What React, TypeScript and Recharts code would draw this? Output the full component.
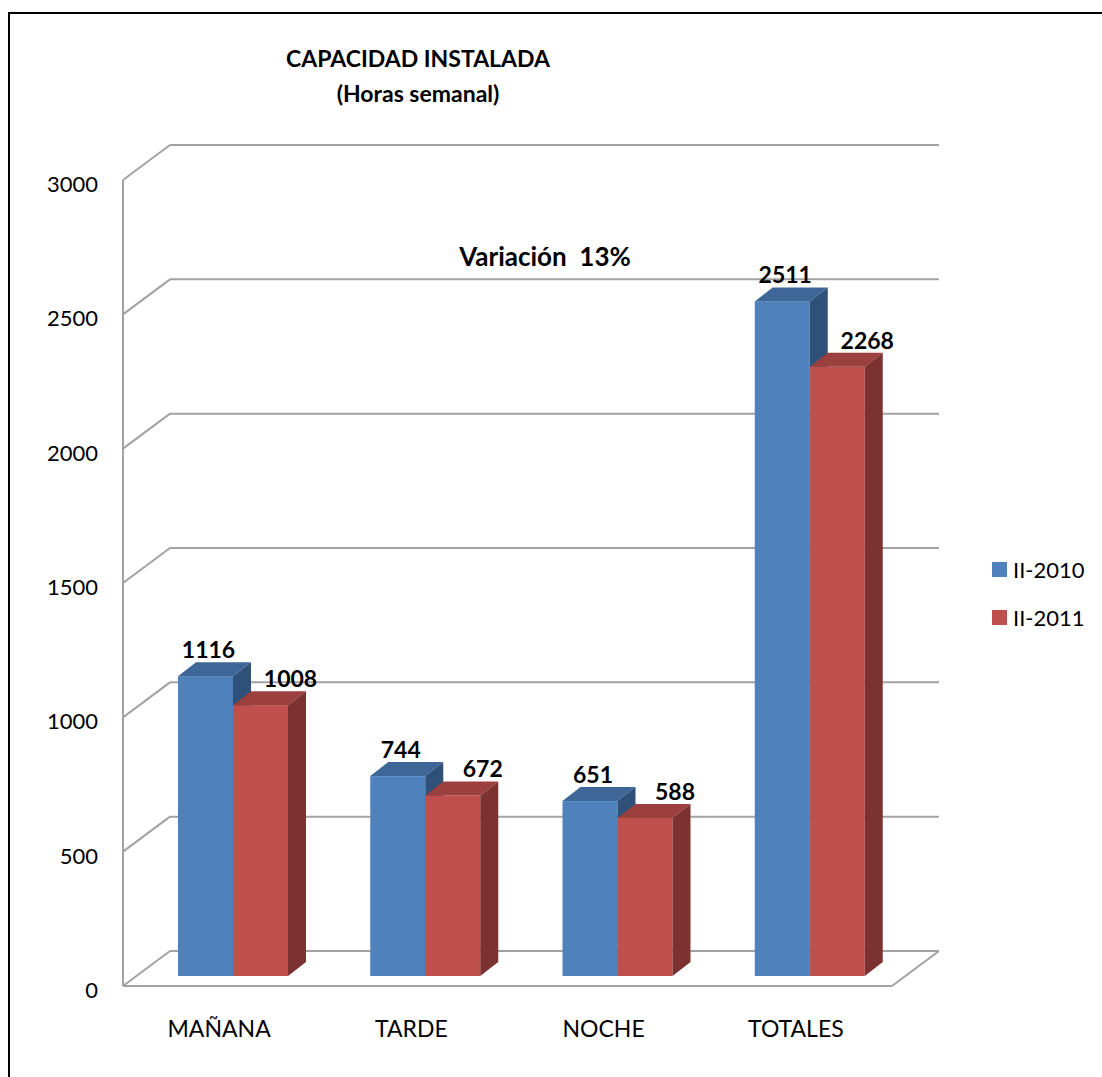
import React from "react";
import {
  BarChart,
  Bar,
  XAxis,
  YAxis,
  CartesianGrid,
  ReferenceArea,
  LabelList,
} from "recharts";

const categories = ["MAÑANA", "TARDE", "NOCHE", "TOTALES"];
const serie2010 = [1116, 744, 651, 2511];
const serie2011 = [1008, 672, 588, 2268];
const seriesNames = ["II-2010", "II-2011"];
const yTicks = [0, 500, 1000, 1500, 2000, 2500, 3000];

const data = categories.map((cat, i) => ({
  cat,
  a: serie2010[i],
  b: serie2011[i],
}));

const FONT = "Lato, 'Open Sans', sans-serif";
const GRID = "#A2A2A2";
// depth of the 3D box relative to the plane the bars stand in
const FRONT = { dx: -14, dy: 10 };
const BACK = { dx: 33, dy: -25 };
const DEPTH = { dx: 18, dy: -14 };

const colors = [
  { front: "#4F81BD", top: "#3E6696", side: "#2F5079" },
  { front: "#C0504D", top: "#9B403E", side: "#7C3231" },
];

function Bar3D(props: any) {
  const { x, y, width: w, height: h, front, top, side } = props;
  if (h == null || isNaN(h)) return null;
  const { dx, dy } = DEPTH;
  return (
    <g>
      <rect x={x} y={y} width={w} height={h} fill={front} />
      <polygon
        points={`${x},${y} ${x + dx},${y + dy} ${x + w + dx},${y + dy} ${x + w},${y}`}
        fill={top}
      />
      <polygon
        points={`${x + w},${y} ${x + w + dx},${y + dy} ${x + w + dx},${y + h + dy} ${x + w},${y + h}`}
        fill={side}
      />
    </g>
  );
}

const valueLabel = (shift: number) => (props: any) => {
  const vb = props.viewBox || {};
  const x = props.x ?? vb.x;
  const y = props.y ?? vb.y;
  const w = props.width ?? vb.width;
  return (
    <text
      x={x + w / 2 + shift}
      y={y - 18}
      textAnchor="middle"
      fontFamily={FONT}
      fontWeight="bold"
      fontSize={23}
      fill="#000"
    >
      {props.value}
    </text>
  );
};

function gridLine(props: any) {
  const { x1, x2, y1, index } = props;
  return (
    <g key={`g-${index}-${y1}`}>
      <line
        x1={x1 + BACK.dx}
        y1={y1 + BACK.dy}
        x2={x2 + BACK.dx}
        y2={y1 + BACK.dy}
        stroke={GRID}
        strokeWidth={2}
      />
      <line
        x1={x1 + FRONT.dx}
        y1={y1 + FRONT.dy}
        x2={x1 + BACK.dx}
        y2={y1 + BACK.dy}
        stroke={GRID}
        strokeWidth={2}
      />
    </g>
  );
}

function boxFrame(props: any) {
  const { x, y, width, height } = props;
  const fx = x + FRONT.dx;
  const bottom = y + height + FRONT.dy;
  return (
    <g fill="none" stroke={GRID} strokeWidth={2}>
      <line x1={fx} y1={y + FRONT.dy} x2={fx} y2={bottom} />
      <line x1={fx} y1={bottom} x2={x + width + FRONT.dx} y2={bottom} />
      <line
        x1={x + width + FRONT.dx}
        y1={bottom}
        x2={x + width + BACK.dx}
        y2={y + height + BACK.dy}
      />
    </g>
  );
}

function YTick(props: any) {
  const { y, payload } = props;
  return (
    <text
      x={98}
      y={y + 22}
      textAnchor="end"
      fontFamily={FONT}
      fontSize={22}
      fill="#000"
    >
      {payload.value}
    </text>
  );
}

function XTick(props: any) {
  const { x, y, payload } = props;
  return (
    <text
      x={x + FRONT.dx}
      y={y + 53}
      textAnchor="middle"
      fontFamily={FONT}
      fontSize={23}
      fill="#000"
    >
      {payload.value}
    </text>
  );
}

export default function App() {
  return (
    <div
      style={{
        position: "absolute",
        left: 0,
        top: 0,
        width: 1102,
        height: 1077,
        background: "#fff",
        overflow: "hidden",
        fontFamily: FONT,
      }}
    >
      <div
        style={{
          position: "absolute",
          left: 8,
          top: 12,
          width: 1094,
          height: 1065,
          borderLeft: "2px solid #000",
          borderTop: "2px solid #000",
          boxSizing: "border-box",
        }}
      />
      <BarChart
        width={1102}
        height={1077}
        data={data}
        margin={{ top: 170, right: 196, bottom: 71, left: 77 }}
        barGap={0}
        barSize={55}
      >
        <CartesianGrid horizontal={gridLine} vertical={false} />
        <ReferenceArea y1={0} y2={3000} shape={boxFrame} />
        <XAxis
          dataKey="cat"
          height={30}
          axisLine={false}
          tickLine={false}
          tick={<XTick />}
          interval={0}
        />
        <YAxis
          width={60}
          domain={[0, 3000]}
          ticks={yTicks}
          axisLine={false}
          tickLine={false}
          tick={<YTick />}
        />
        <Bar
          dataKey="a"
          name={seriesNames[0]}
          isAnimationActive={false}
          shape={(p: any) => <Bar3D {...p} {...colors[0]} />}
        >
          <LabelList dataKey="a" content={valueLabel(3)} />
        </Bar>
        <Bar
          dataKey="b"
          name={seriesNames[1]}
          isAnimationActive={false}
          shape={(p: any) => <Bar3D {...p} {...colors[1]} />}
        >
          <LabelList dataKey="b" content={valueLabel(30)} />
        </Bar>
      </BarChart>
      <div
        style={{
          position: "absolute",
          left: 218,
          top: 41,
          width: 400,
          textAlign: "center",
          fontWeight: "bold",
          fontSize: 23,
          lineHeight: "35px",
          color: "#000",
        }}
      >
        CAPACIDAD INSTALADA
        <br />
        (Horas semanal)
      </div>
      <div
        style={{
          position: "absolute",
          left: 395,
          top: 240,
          width: 300,
          textAlign: "center",
          fontWeight: "bold",
          fontSize: 26,
          color: "#000",
          whiteSpace: "pre",
        }}
      >
        {"Variación  13%"}
      </div>
      <div style={{ position: "absolute", left: 992, top: 556 }}>
        {seriesNames.map((name, i) => (
          <div
            key={name}
            style={{
              display: "flex",
              alignItems: "center",
              height: 27,
              marginBottom: 21,
              fontSize: 22,
              color: "#000",
            }}
          >
            <span
              style={{
                display: "inline-block",
                width: 15,
                height: 15,
                background: colors[i].front,
                marginRight: 6,
              }}
            />
            {name}
          </div>
        ))}
      </div>
    </div>
  );
}
